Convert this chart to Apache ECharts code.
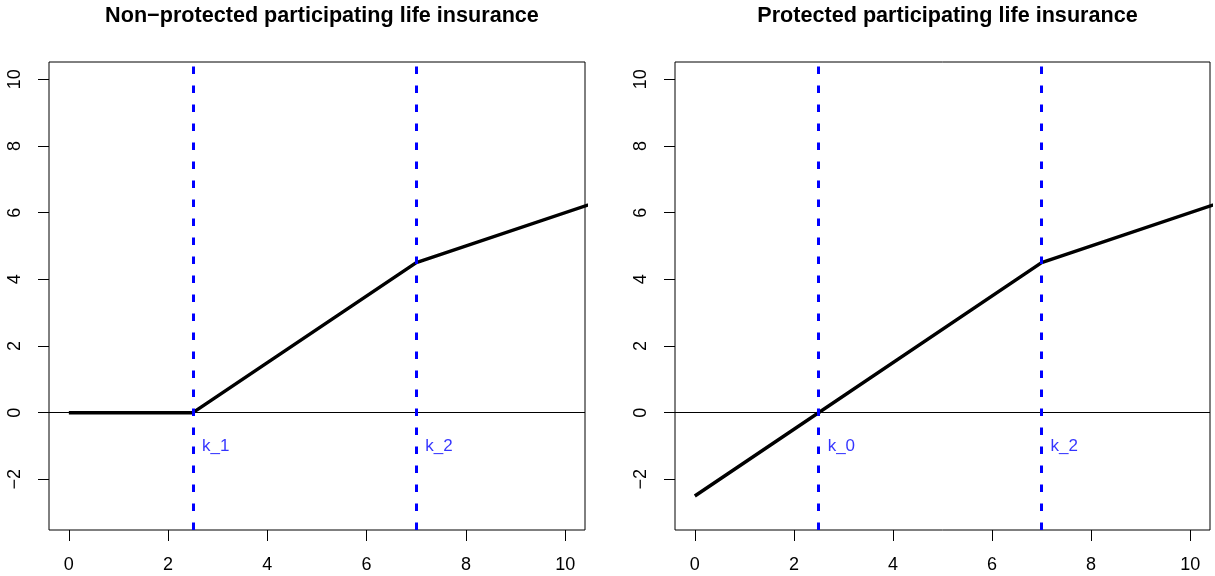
<!DOCTYPE html>
<html>
<head>
<meta charset="utf-8">
<script src="https://cdn.jsdelivr.net/npm/echarts@6/dist/echarts.min.js"></script>
<style>html,body{margin:0;padding:0;background:#fff;}#c{width:1215px;height:576px;}</style>
</head>
<body>
<div id="c"></div>
<script>
// ---- data ----
var titles = ['Non\u2212protected participating life insurance', 'Protected participating life insurance'];
var xTicks = [0, 2, 4, 6, 8, 10];
var yTicks = [-2, 0, 2, 4, 6, 8, 10];
var payoffLeft = [[0, 0], [2.5, 0], [7, 4.5], [12, 7]];
var payoffRight = [[0, -2.5], [7, 4.5], [12, 7]];
var kinksLeft = [2.5, 7];
var kinksRight = [2.5, 7];
var kLabelsLeft = ['k_1', 'k_2'];
var kLabelsRight = ['k_0', 'k_2'];
var kLabelY = -1;
var xRange = [-0.4, 10.4];
var yRange = [-3.52, 10.52];

var FONT = 'Liberation Sans, Arial, Helvetica, sans-serif';
var chart = echarts.init(document.getElementById('c'));

var grids = [
  {left: 49, top: 62, width: 536, height: 468},
  {left: 675, top: 62, width: 535, height: 468}
];
var centers = [49 + 268, 675 + 267.5];

function xAxisCfg(i) {
  return {
    type: 'value', gridIndex: i, min: xRange[0], max: xRange[1], position: 'bottom',
    axisLine: {show: false, onZero: false},
    splitLine: {show: false},
    axisTick: {show: true, inside: false, length: 11, customValues: xTicks, lineStyle: {color: '#000', width: 1}},
    axisLabel: {show: true, customValues: xTicks, margin: 26, fontSize: 18, color: '#000', fontFamily: FONT}
  };
}
function yAxisCfg(i) {
  return {
    type: 'value', gridIndex: i, min: yRange[0], max: yRange[1], position: 'left',
    axisLine: {show: false, onZero: false},
    splitLine: {show: false},
    axisTick: {show: true, inside: false, length: 11, customValues: yTicks, lineStyle: {color: '#000', width: 1}},
    axisLabel: {show: true, customValues: yTicks, margin: 25, rotate: 90, align: 'center', verticalAlign: 'bottom',
      fontSize: 18, color: '#000', fontFamily: FONT,
      formatter: function (v) { return v < 0 ? '\u2212' + Math.abs(v) : String(v); }}
  };
}

function payoffSeries(i, data, kinks) {
  return {
    type: 'line', xAxisIndex: i, yAxisIndex: i, data: data, showSymbol: false, symbol: 'none',
    clip: true, silent: true,
    lineStyle: {color: '#000', width: 3.5},
    markLine: {
      silent: true, symbol: ['none', 'none'], label: {show: false},
      data: [{yAxis: 0, lineStyle: {color: '#000', width: 1.2, type: 'solid'}}].concat(
        kinks.map(function (k) {
          return {xAxis: k, lineStyle: {color: '#0000ff', width: 3, type: [7.5, 11.5], dashOffset: 0}};
        }))
    },
    z: 3
  };
}
function labelSeries(i, kinks, labels) {
  return {
    type: 'scatter', xAxisIndex: i, yAxisIndex: i, symbolSize: 0, silent: true,
    data: kinks.map(function (k, j) { return [k, kLabelY, labels[j]]; }),
    label: {show: true, position: 'right', distance: 9, color: '#0000ff', fontSize: 17, fontFamily: FONT,
      formatter: function (p) { return p.value[2]; }}
  };
}

chart.setOption({
  backgroundColor: '#fff',
  animation: false,
  title: titles.map(function (t, i) {
    return {text: t, left: centers[i], top: 0, textAlign: 'center',
      textStyle: {fontSize: 21.6, fontWeight: 'bold', color: '#000', fontFamily: FONT}};
  }),
  grid: grids.map(function (g) {
    return Object.assign({show: true, borderColor: '#000', borderWidth: 1, backgroundColor: 'transparent'}, g);
  }),
  xAxis: [xAxisCfg(0), xAxisCfg(1)],
  yAxis: [yAxisCfg(0), yAxisCfg(1)],
  series: [
    payoffSeries(0, payoffLeft, kinksLeft),
    labelSeries(0, kinksLeft, kLabelsLeft),
    payoffSeries(1, payoffRight, kinksRight),
    labelSeries(1, kinksRight, kLabelsRight)
  ]
});
</script>
</body>
</html>
